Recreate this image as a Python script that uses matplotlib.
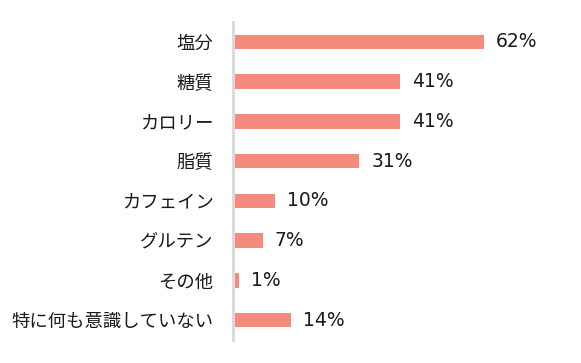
import matplotlib
matplotlib.use("Agg")
import matplotlib.pyplot as plt

plt.rcParams['font.family'] = ['Noto Sans CJK JP', 'DejaVu Sans']

categories = ["塩分", "糖質", "カロリー", "脂質", "カフェイン", "グルテン", "その他", "特に何も意識していない"]
values = [62, 41, 41, 31, 10, 7, 1, 14]

fig = plt.figure(figsize=(5.81, 3.63), dpi=100)
ax = fig.add_axes([233/581, 23/363, 322/581, 318/363])

y = list(range(len(categories)))
ax.barh(y, values, height=0.36, color="#F58B7C", left=0.4)
ax.set_ylim(len(categories) - 0.5, -0.5)
ax.set_xlim(0, 80)

for yi, v in zip(y, values):
    ax.text(v + 0.4 + 3.0, yi, f"{v}%", va="center", ha="left", fontsize=13.5,
            color="#1a1a1a", family=["DejaVu Sans"])

ax.set_yticks(y)
ax.set_yticklabels(categories, fontsize=13.2, color="#1a1a1a")
ax.tick_params(axis="y", length=0, pad=14)
ax.set_xticks([])
for s in ["top", "right", "bottom"]:
    ax.spines[s].set_visible(False)
ax.spines["left"].set_color("#d9d9d9")
ax.spines["left"].set_linewidth(2)

fig.savefig("out.png", dpi=100)
